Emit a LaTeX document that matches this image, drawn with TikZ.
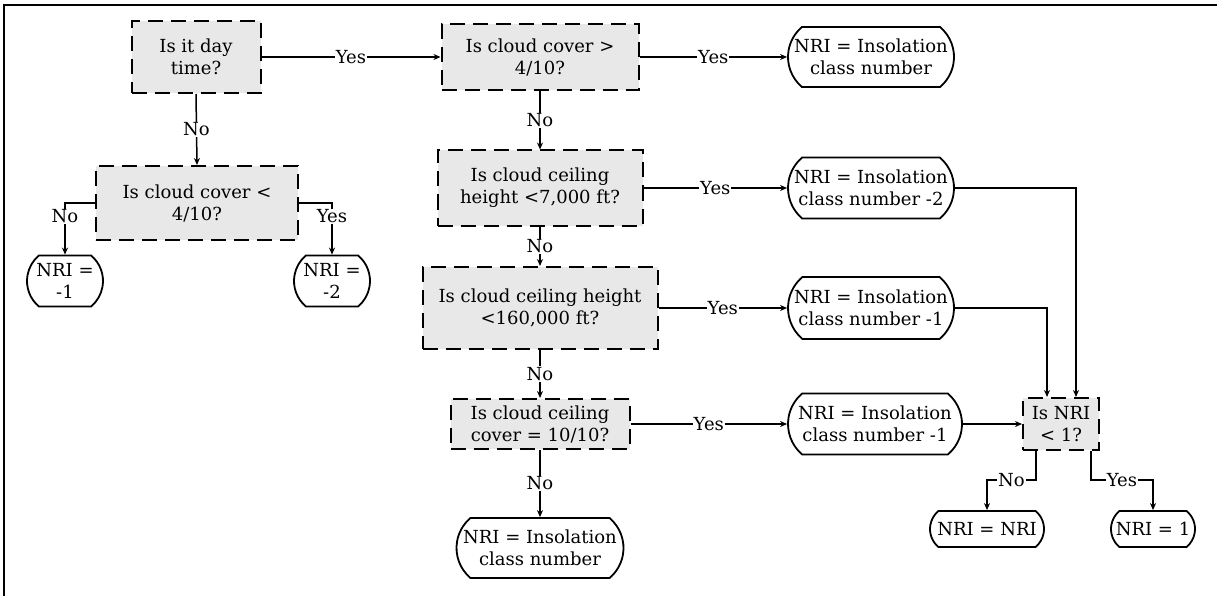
\documentclass[tikz,border=0pt]{standalone}
\usepackage{fontspec}
\setmainfont{DejaVu Serif}
\usetikzlibrary{arrows.meta, positioning, shapes.misc}

\begin{document}
\begin{tikzpicture}[x=1pt, y=-1pt,
  decision/.style={rectangle, draw, line width=2pt, dash pattern=on 15pt off 8pt,
    fill=gray!18, align=center, inner sep=2pt},
  term/.style={rounded rectangle, rounded rectangle arc length=100, draw,
    line width=1.8pt, align=center, inner xsep=0pt, inner ysep=2pt},
  arr/.style={-{Stealth[length=7pt, width=6pt]}, line width=1.5pt},
  lbl/.style={fill=white, inner sep=1pt},
  font=\fontsize{18}{22}\selectfont
]
\useasboundingbox (0,0) rectangle (1217,596);
\draw[line width=1.4pt] (4,596) -- (4,5) -- (1217,5);

% left branch
\node[decision, minimum width=129, minimum height=72] (day) at (196,57) {Is it day\\time?};
\node[decision, minimum width=202, minimum height=74] (clt) at (197,203) {Is cloud cover <\\4/10?};
\node[term, minimum width=76, minimum height=51] (m1) at (65,281) {NRI =\\-1};
\node[term, minimum width=76, minimum height=51] (m2) at (332,281) {NRI =\\-2};

% middle column
\node[decision, minimum width=197, minimum height=66] (cgt) at (540,57) {Is cloud cover >\\4/10?};
\node[decision, minimum width=205, minimum height=75] (ch7) at (540,188) {Is cloud ceiling\\height <7,000 ft?};
\node[decision, minimum width=235, minimum height=82] (ch160) at (540,308) {Is cloud ceiling height\\<160,000 ft?};
\node[decision, minimum width=179, minimum height=50] (cc10) at (540,424) {Is cloud ceiling\\cover = 10/10?};
\node[term, minimum width=167, minimum height=60] (tend) at (540,548) {NRI = Insolation\\class number};

% right column
\node[term, minimum width=166, minimum height=60] (t1) at (871,57) {NRI = Insolation\\class number};
\node[term, minimum width=166, minimum height=61] (t2) at (871,188) {NRI = Insolation\\class number -2};
\node[term, minimum width=166, minimum height=62] (t3) at (871,308) {NRI = Insolation\\class number -1};
\node[term, minimum width=174, minimum height=61] (t4) at (875,424) {NRI = Insolation\\class number -1};
\node[decision, minimum width=76, minimum height=52] (nri) at (1061,424) {Is NRI\\< 1?};
\node[term, minimum width=114, minimum height=36] (nn) at (987,529) {NRI = NRI};
\node[term, minimum width=84, minimum height=36] (n1) at (1153,529) {NRI = 1};

% connectors
\draw[arr] (day.east) -- node[lbl] {Yes} (cgt.west);
\draw[arr] (day.south) -- node[lbl] {No} (clt.north);
\draw[arr] (clt.west) -| node[lbl, pos=0.63] {No} (m1.north);
\draw[arr] (clt.east) -| node[lbl, pos=0.63] {Yes} (m2.north);
\draw[arr] (cgt.east) -- node[lbl] {Yes} (t1.west);
\draw[arr] (cgt.south) -- node[lbl] {No} (ch7.north);
\draw[arr] (ch7.east) -- node[lbl] {Yes} (t2.west);
\draw[arr] (ch7.south) -- node[lbl] {No} (ch160.north);
\draw[arr] (ch160.east) -- node[lbl] {Yes} (t3.west);
\draw[arr] (ch160.south) -- node[lbl] {No} (cc10.north);
\draw[arr] (cc10.east) -- node[lbl] {Yes} (t4.west);
\draw[arr] (cc10.south) -- node[lbl] {No} (tend.north);
\draw[arr] (t2.east) -| ([xshift=15pt]nri.north);
\draw[arr] (t3.east) -| ([xshift=-14pt]nri.north);
\draw[arr] (t4.east) -- (nri.west);
\draw[arr] ([xshift=-25pt]nri.south) -- ++(0,29) -| node[lbl, pos=0.25] {No} (nn.north);
\draw[arr] ([xshift=30pt]nri.south) -- ++(0,29) -| node[lbl, pos=0.25] {Yes} (n1.north);
\end{tikzpicture}
\end{document}
